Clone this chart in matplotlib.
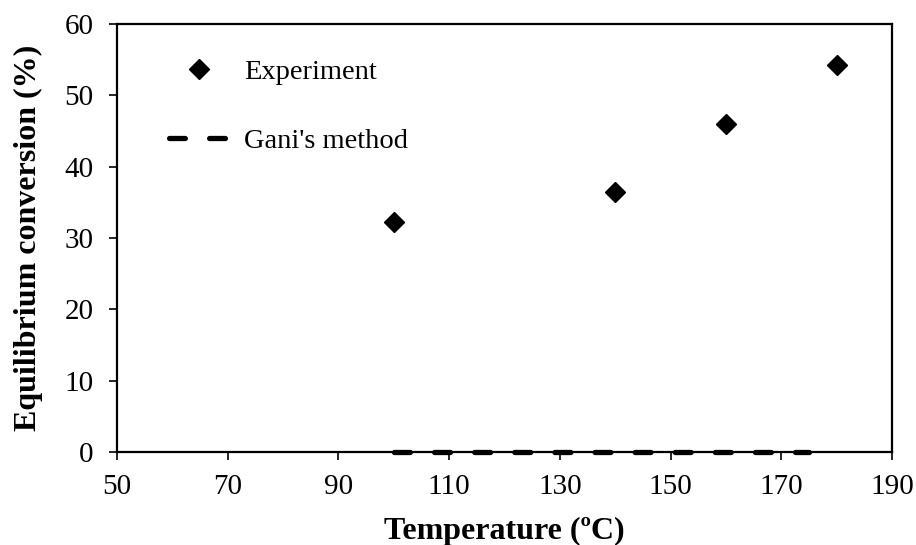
import matplotlib
matplotlib.use("Agg")
import matplotlib.pyplot as plt

# Datos
temp_exp = [100, 140, 160, 180]
conv_exp = [32.3, 36.5, 46.0, 54.2]

temp_gani = [100, 120, 140, 160, 175]
conv_gani = [0.0, 0.0, 0.0, 0.0, 0.0]

x_ticks = [50, 70, 90, 110, 130, 150, 170, 190]
y_ticks = [0, 10, 20, 30, 40, 50, 60]

plt.rcParams.update({
    "font.family": "Liberation Serif",
    "font.size": 21,
})

fig, ax = plt.subplots(figsize=(9.16, 5.45), dpi=100)
fig.subplots_adjust(left=117 / 916, right=892 / 916, top=1 - 24 / 545, bottom=1 - 452 / 545)

ax.plot(temp_exp, conv_exp, linestyle="none", marker="D", markersize=10,
        color="black", label="Experiment", zorder=3)
ax.plot(temp_gani, conv_gani, color="black", linewidth=3.8,
        dashes=(3.0, 4.6), dash_capstyle="round", label="Gani's method",
        zorder=2, clip_on=False)

ax.set_xlim(50, 190)
ax.set_ylim(0, 60)
ax.set_xticks(x_ticks)
ax.set_yticks(y_ticks)
ax.tick_params(direction="out", length=6, width=1.2, labelsize=21)
ax.tick_params(axis="x", pad=10)
ax.tick_params(axis="y", pad=11)

for sp in ax.spines.values():
    sp.set_linewidth(1.6)

ax.set_xlabel("Temperature (ºC)", fontsize=23, fontweight="bold", labelpad=12)
ax.set_ylabel("Equilibrium conversion (%)", fontsize=23, fontweight="bold", labelpad=15)

ax.legend(loc="upper left", bbox_to_anchor=(0.067, 0.919), frameon=False,
          borderpad=0, borderaxespad=0,
          handlelength=2.1, handletextpad=0.55, labelspacing=1.53, fontsize=20.5)

fig.savefig("out.png", dpi=100, facecolor="white")
